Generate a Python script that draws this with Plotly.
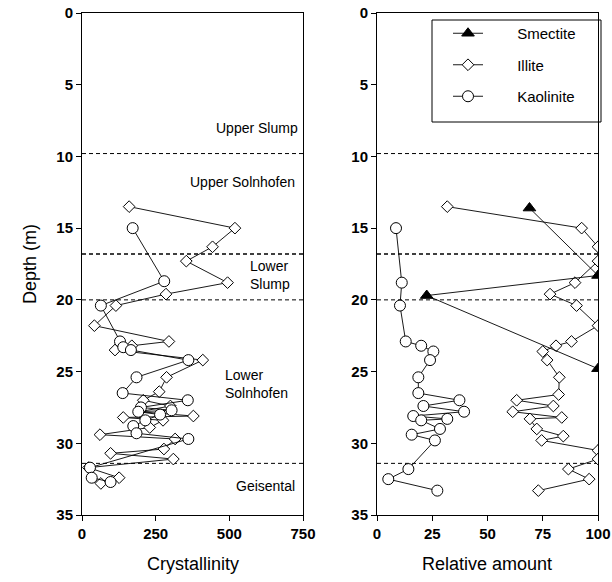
import plotly.graph_objects as go

# ---------------- data ----------------
# Left panel: crystallinity vs depth (m)
ill_cry_depth = [13.5, 15.0, 16.3, 17.3, 18.8, 19.6, 20.4, 21.8, 22.9, 23.2, 23.5, 24.2, 25.4,
                 26.4, 27.0, 27.4, 27.8, 28.1, 28.2, 28.4, 28.9, 29.4, 29.7, 30.4, 30.7, 31.1,
                 31.7, 32.4, 32.8]
ill_cry = [160, 519, 443, 354, 494, 285, 115, 42, 295, 169, 112, 410, 287,
           262, 208, 300, 195, 378, 140, 275, 230, 61, 316, 278, 97, 310,
           22, 126, 64]

kao_cry_depth = [15.0, 18.7, 20.4, 22.9, 23.3, 23.5, 24.2, 25.4, 26.5, 27.0, 27.5, 27.7,
                 27.8, 28.0, 28.4, 28.8, 29.3, 29.7, 31.7, 32.4, 32.7]
kao_cry = [172, 279, 64, 129, 140, 166, 361, 185, 138, 359, 200, 304,
           191, 265, 215, 174, 185, 361, 27, 33, 97]

# Right panel: relative amount vs depth (m)
sme_rel_depth = [13.6, 18.3, 19.7, 24.8]
sme_rel = [69, 100, 22.5, 100]

ill_rel_depth = [13.5, 15.0, 16.3, 17.3, 18.8, 19.6, 20.4, 21.8, 22.9, 23.2, 23.6, 24.2,
                 25.4, 26.6, 27.0, 27.4, 27.8, 28.2, 28.3, 29.0, 29.5, 29.8, 30.5, 31.1,
                 31.8, 32.5, 33.3]
ill_rel = [31.8, 92.6, 100, 100, 89.6, 78.3, 90.3, 100, 88, 81, 75, 77,
           82.5, 82.2, 63.2, 79.8, 61.4, 83.6, 69.2, 72.3, 84.3, 74.5, 100, 100,
           86.6, 96, 73]

kao_rel_depth = [15.0, 18.8, 20.4, 22.9, 23.2, 23.6, 24.2, 25.4, 26.5, 27.0, 27.4, 27.8,
                 28.1, 28.3, 28.4, 29.0, 29.4, 29.8, 31.8, 32.5, 33.3]
kao_rel = [8.6, 11.2, 10.4, 13, 20, 25.5, 24, 18.7, 18.7, 37.3, 21, 39.4,
           16.4, 31.8, 20, 28.5, 15.7, 26.2, 14.2, 5.1, 27.3]

series_names = ["Smectite", "Illite", "Kaolinite"]

boundary_depths = [9.8, 16.8, 20.0, 31.4]
boundary_widths = [1, 1.6, 1, 1]

unit_labels = ["Upper Slump", "Upper Solnhofen", "Lower<br>Slump", "Lower<br>Solnhofen", "Geisental"]
unit_label_depths = [8.0, 11.8, 18.3, 25.9, 33.0]

depth_ticks = [0, 5, 10, 15, 20, 25, 30, 35]
cry_ticks = [0, 250, 500, 750]
rel_ticks = [0, 25, 50, 75, 100]

# ---------------- layout helpers ----------------
FONT = "Liberation Sans, Arial, sans-serif"
W, H = 612, 582
TOP, BOT = 13, 515          # plot area in pixels


def PX(x):
    return x / W


def PY(y):
    return (BOT - y) / (BOT - TOP)


LINE = dict(color="black", width=0.9)
NB = "\u00a0" * 7

fig = go.Figure()


def mk(symbol, filled, size):
    return dict(symbol=symbol, size=size,
                color="black" if filled else "white",
                line=dict(color="black", width=1))


# left panel
fig.add_trace(go.Scatter(x=ill_cry, y=ill_cry_depth, mode="lines+markers", line=LINE,
                         marker=mk("diamond", False, 9), xaxis="x", yaxis="y", showlegend=False))
fig.add_trace(go.Scatter(x=kao_cry, y=kao_cry_depth, mode="lines+markers", line=LINE,
                         marker=mk("circle", False, 11), xaxis="x", yaxis="y", showlegend=False))
# right panel
fig.add_trace(go.Scatter(x=kao_rel, y=kao_rel_depth, mode="lines+markers", line=LINE,
                         marker=mk("circle", False, 11), xaxis="x2", yaxis="y2",
                         name=NB + series_names[2], legendrank=3, legendgroup="k"))
fig.add_trace(go.Scatter(x=ill_rel, y=ill_rel_depth, mode="lines+markers", line=LINE,
                         marker=mk("diamond", False, 9), xaxis="x2", yaxis="y2",
                         name=NB + series_names[1], legendrank=2, legendgroup="i"))
fig.add_trace(go.Scatter(x=sme_rel, y=sme_rel_depth, mode="lines+markers", line=LINE,
                         marker=mk("triangle-up", True, 11), xaxis="x2", yaxis="y2",
                         name=NB + series_names[0], legendrank=1, legendgroup="s"))

axis_common = dict(showline=True, linecolor="black", linewidth=1, mirror=True,
                   ticks="outside", ticklen=5, tickcolor="black", showgrid=False,
                   zeroline=False, automargin=False,
                   tickfont=dict(family=FONT, size=15, color="black", weight="bold"))

fig.update_layout(
    width=W, height=H,
    margin=dict(l=0, r=0, t=TOP, b=H - BOT),
    paper_bgcolor="white", plot_bgcolor="white",
    xaxis=dict(domain=[PX(82), PX(303)], range=[0, 750], tickvals=cry_ticks, anchor="y", **axis_common),
    yaxis=dict(domain=[0, 1], range=[35, 0], tickvals=depth_ticks, anchor="x", **axis_common),
    xaxis2=dict(domain=[PX(377), PX(598)], range=[0, 100], tickvals=rel_ticks, anchor="y2", **axis_common),
    yaxis2=dict(domain=[0, 1], range=[35, 0], tickvals=depth_ticks, anchor="x2", **axis_common),
    legend=dict(x=PX(448), y=PY(17), xanchor="left", yanchor="top",
                bgcolor="rgba(0,0,0,0)", borderwidth=0, tracegroupgap=9,
                font=dict(family=FONT, size=15, color="black"), itemsizing="trace"),
    showlegend=True,
)

shapes = []
for d, w in zip(boundary_depths, boundary_widths):
    for xr, yr in (("x domain", "y"), ("x2 domain", "y2")):
        shapes.append(dict(type="line", xref=xr, yref=yr, x0=0, x1=1, y0=d, y1=d,
                           line=dict(color="black", width=w, dash="4px,3px"), layer="below"))
# legend frame
shapes.append(dict(type="rect", xref="paper", yref="paper",
                   x0=PX(432), x1=PX(601), y0=PY(122), y1=PY(20),
                   line=dict(color="black", width=1), fillcolor="white", layer="below"))
fig.update_layout(shapes=shapes)

ann = []
aligns = [("right", 0.985), ("right", 0.975), ("left", 0.75), ("left", 0.64), ("right", 0.975)]
for t, d, (al, xp) in zip(unit_labels, unit_label_depths, aligns):
    ann.append(dict(text=t, xref="x domain", yref="y", x=xp, y=d, showarrow=False,
                    xanchor=al, yanchor="middle", align=al,
                    font=dict(family=FONT, size=14, color="black")))
# axis titles
ann.append(dict(text="Crystallinity", xref="paper", yref="paper", x=PX((82 + 303) / 2), y=PY(564),
                showarrow=False, xanchor="center", yanchor="middle",
                font=dict(family=FONT, size=18, color="black")))
ann.append(dict(text="Relative amount", xref="paper", yref="paper", x=PX((377 + 598) / 2), y=PY(564),
                showarrow=False, xanchor="center", yanchor="middle",
                font=dict(family=FONT, size=18, color="black")))
ann.append(dict(text="Depth (m)", xref="paper", yref="paper", x=PX(30), y=PY(264),
                showarrow=False, xanchor="center", yanchor="middle", textangle=-90,
                font=dict(family=FONT, size=18, color="black")))
fig.update_layout(annotations=ann)

fig.write_html("out.html", config={"displayModeBar": False},
               post_script="document.body.style.margin='0';document.body.style.overflow='hidden';")
